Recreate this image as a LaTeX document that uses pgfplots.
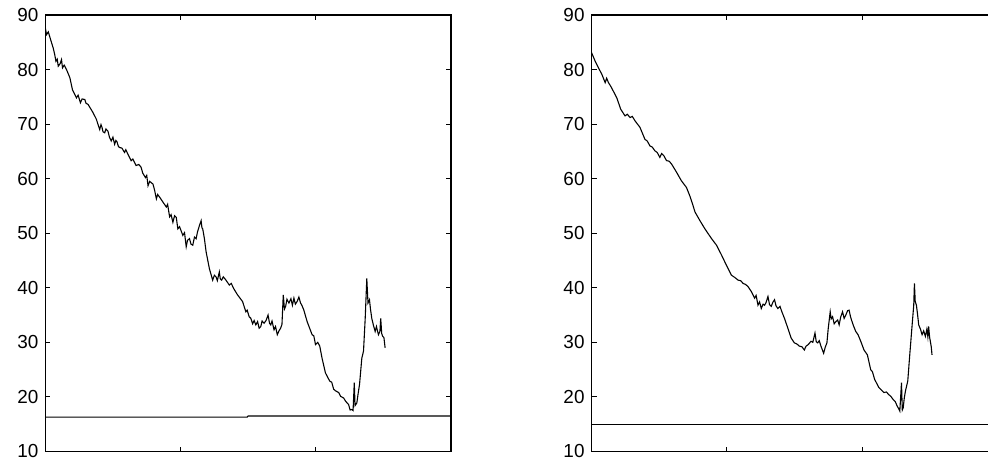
\documentclass[border=0pt]{standalone}
\usepackage{pgfplots}
\pgfplotsset{compat=1.18}
\usepackage{fontspec}
\setmainfont{Liberation Sans}
\begin{document}
\pgfplotsset{
  panel/.style={
    scale only axis, width=204pt, height=219.5pt,
    xmin=0, xmax=408, ymin=10, ymax=90,
    xtick={136,272}, xticklabels={},
    ytick={10,20,...,90},
    tick align=inside, major tick length=2.5pt,
    tick style={black, line width=0.5pt},
    axis line style={line width=0.6pt},
    ticklabel style={font=\fontsize{9.5}{10}\selectfont},
    /pgf/number format/assume math mode=true,
  }
}
\begin{tikzpicture}
\useasboundingbox (0,0) rectangle (494pt,231.5pt);
\clip (0,0) rectangle (494pt,231.5pt);
\begin{axis}[panel, at={(20pt,4.5pt)}, anchor=south west]
\addplot[black, line width=0.55pt, mark=none] coordinates {
(0,87.6)(1.3,86.4)(3,86.9)(5.3,85.5)(8,83.9)(9.5,82.7)(10.7,81.5)(12,81.9)(13,80.6)(15,81.1)(16.3,81.8)(17.3,80.3)
(19,80.8)(21.3,80.0)(24.7,78.5)(27.3,76.3)(31.3,74.8)(33,75.3)(35.3,73.9)(37,74.6)(39.7,74.5)(41,73.8)(43,73.6)(48,72.1)(51.3,70.9)
(54.7,69.0)(56,69.9)(57,69.4)(58,68.6)(59.7,68.4)(61,69.1)(63,68.7)(64.5,67.6)(66.3,66.9)(68,67.6)(69.7,66.3)(71,67.0)(72,66.8)(73.5,65.9)(74.7,65.7)(77,65.6)(79.7,64.8)(81,65.3)(83,64.5)
(86.3,63.3)(88,63.6)(91.3,62.4)(94,62.6)(96.3,62.1)(98,61.0)(100.7,60.2)(102,60.6)(103.3,58.7)(105,59.5)(108.3,59.0)(110,57.8)(111.7,56.3)(113,57.1)(115,56.6)
(118.3,55.7)(121.7,54.8)(123,55.3)(125,53.0)(126.5,53.4)(128.3,52.0)(130,53.2)(131.7,52.9)(133.3,50.8)(135,51.2)(138.3,49.6)(140,50.1)(141.7,47.5)
(143,48.7)(145,49.0)(146.5,48.0)(148.3,47.8)(150,49.3)(151.7,49.0)(153,50.2)(155,51.4)(156.7,52.3)(157.5,51.0)(158.3,50.8)(160,49.0)(161.7,46.6)
(165,43.5)(168.3,41.4)(170,42.3)(171.7,42.0)(173,41.3)(175,42.9)(176,41.6)(177.3,41.4)(179,42.0)(181.7,41.4)(185,40.5)(187,40.8)(189.3,39.9)
(193.3,38.7)(198.3,37.5)(201.7,35.6)(203,35.9)(205,34.7)(206.7,34.4)(208.5,33.4)(210,34.0)(211.7,33.2)(213.5,33.8)(215,32.6)(216.7,32.9)(218,33.9)(220,33.5)
(222,34.0)(224,35.0)(225.5,33.5)(226.7,33.2)(228,33.9)(230,32.3)(231.5,32.9)(233.3,31.4)(235,32.1)(236.7,32.6)(238,33.3)(239.3,38.7)(240.5,36.1)(241.7,36.6)(243,37.9)(245,37.2)
(247,38.0)(248.5,36.8)(250,38.1)(251.5,37.0)(253.3,37.5)(255,38.3)(256.7,37.2)(258,36.8)(260,35.9)(263.3,33.8)(268.3,31.4)(270,31.2)(271.7,29.6)(274,30.0)(276,29.3)
(278.3,27.1)(281.7,24.4)(284,23.6)(286,22.9)(288,22.7)(290,21.4)(292,21.1)(295,20.8)(297,20.1)(300,19.8)(302,19.2)(305,18.6)(306.5,17.6)(308.3,17.7)
(309.5,17.5)(310.7,22.6)(311.5,18.4)(313.3,18.9)(314.5,20.5)(316,22.3)(318.3,27.1)(320,28.4)(321.7,34.4)(323.3,41.7)(324.5,37.2)(326,37.8)
(327,36.1)(328.3,34.4)(330,33.1)(331.7,32.0)(333,32.9)(335,31.4)(336.5,32.0)(337.3,34.4)(338.3,31.6)(339.3,31.1)(340.5,30.9)(341.7,29.0)
};
\addplot[black, line width=0.55pt, mark=none] coordinates {(0,16.3)(203,16.3)(204,16.5)(408,16.5)};
\end{axis}
\begin{axis}[panel, at={(294.65pt,4.5pt)}, anchor=south west]
\addplot[black, line width=0.55pt, mark=none] coordinates {
(0,83.1)(3.7,81.5)(7,80.3)(10.4,79.1)(13.7,77.6)(15.2,78.4)(17,77.6)(19.4,76.9)(22,76.0)
(25.4,74.8)(29.4,72.7)(33.7,71.5)(36,71.8)(38.7,71.2)(41,71.4)(43.7,70.6)(48.7,69.4)(53.7,67.2)(56,66.9)(58.7,66.0)
(61,65.8)(63.7,65.1)(66,64.8)(68.7,63.9)(70.5,64.6)(72.7,64.2)(75.4,63.3)(78,63.2)(80.4,62.7)(85.4,61.2)(90.4,59.6)(95.4,58.4)
(98.7,56.9)(102,55.1)(104,53.9)(109,52.3)(114,50.8)(120.7,49.0)(125.7,47.8)(130.7,46.0)
(135.7,44.1)(140.7,42.3)(144,41.9)(147.4,41.4)(150,41.3)(152.4,40.8)(155,40.6)(157.4,40.2)(160.7,39.3)(164,38.1)(165.5,38.6)(167.4,36.8)
(169,37.4)(170.7,36.2)(172.5,37.0)(174,36.8)(175.5,37.3)(177.4,38.4)(179,36.9)(180.7,36.6)(182.5,37.4)(184,37.8)(185.5,36.7)(187.4,36.2)(189.5,36.6)(191.4,35.6)(194,34.4)
(197.4,32.6)(200.7,30.8)(204,29.9)(206.5,29.7)(209,29.3)(211.5,29.2)(214,28.6)(215.7,29.3)(218,29.6)(220.7,30.2)(222.5,30.0)(224.7,31.7)
(226,30.1)(227.4,29.9)(229,30.3)(230.7,29.3)(233.4,28.0)(235,29.1)(236.7,29.9)(238,32.5)(240,35.6)(241,34.3)(242.4,34.7)(244,33.4)(245.7,33.8)(247.5,34.1)(249,33.2)
(250.5,34.6)(252.4,35.6)(254,34.4)(255.7,35.0)(257.5,35.8)(259,35.9)(260.3,34.8)(261.4,34.1)(263.5,33.0)(265.7,32.0)(268,31.4)(270.7,30.2)(274,28.6)(277.4,27.7)
(280.7,25.0)(282.5,24.6)(284.7,23.2)(287,22.4)(289,21.7)(294,20.8)(296.5,20.9)(299,20.4)(301,20.1)(303.4,19.5)(305.5,19.1)(307.4,18.3)(308.7,17.9)(310,17.4)
(311.7,22.6)(312.5,17.6)(313.4,18.0)(314.5,19.8)(315.7,21.1)(318,22.9)(320,27.7)(322.4,33.2)(324,36.8)(324.7,40.8)(325.5,37.5)
(326.7,36.8)(327.8,35.2)(329,33.2)(330.8,32.4)(332.4,31.4)(334,32.1)(335.7,31.1)(337.2,32.4)(338.2,31.0)(339,32.9)(340,30.9)(340.7,30.2)(341.6,29.2)(342.4,27.7)
};
\addplot[black, line width=0.55pt, mark=none] coordinates {(0,14.9)(408,14.9)};
\end{axis}
\end{tikzpicture}
\end{document}
